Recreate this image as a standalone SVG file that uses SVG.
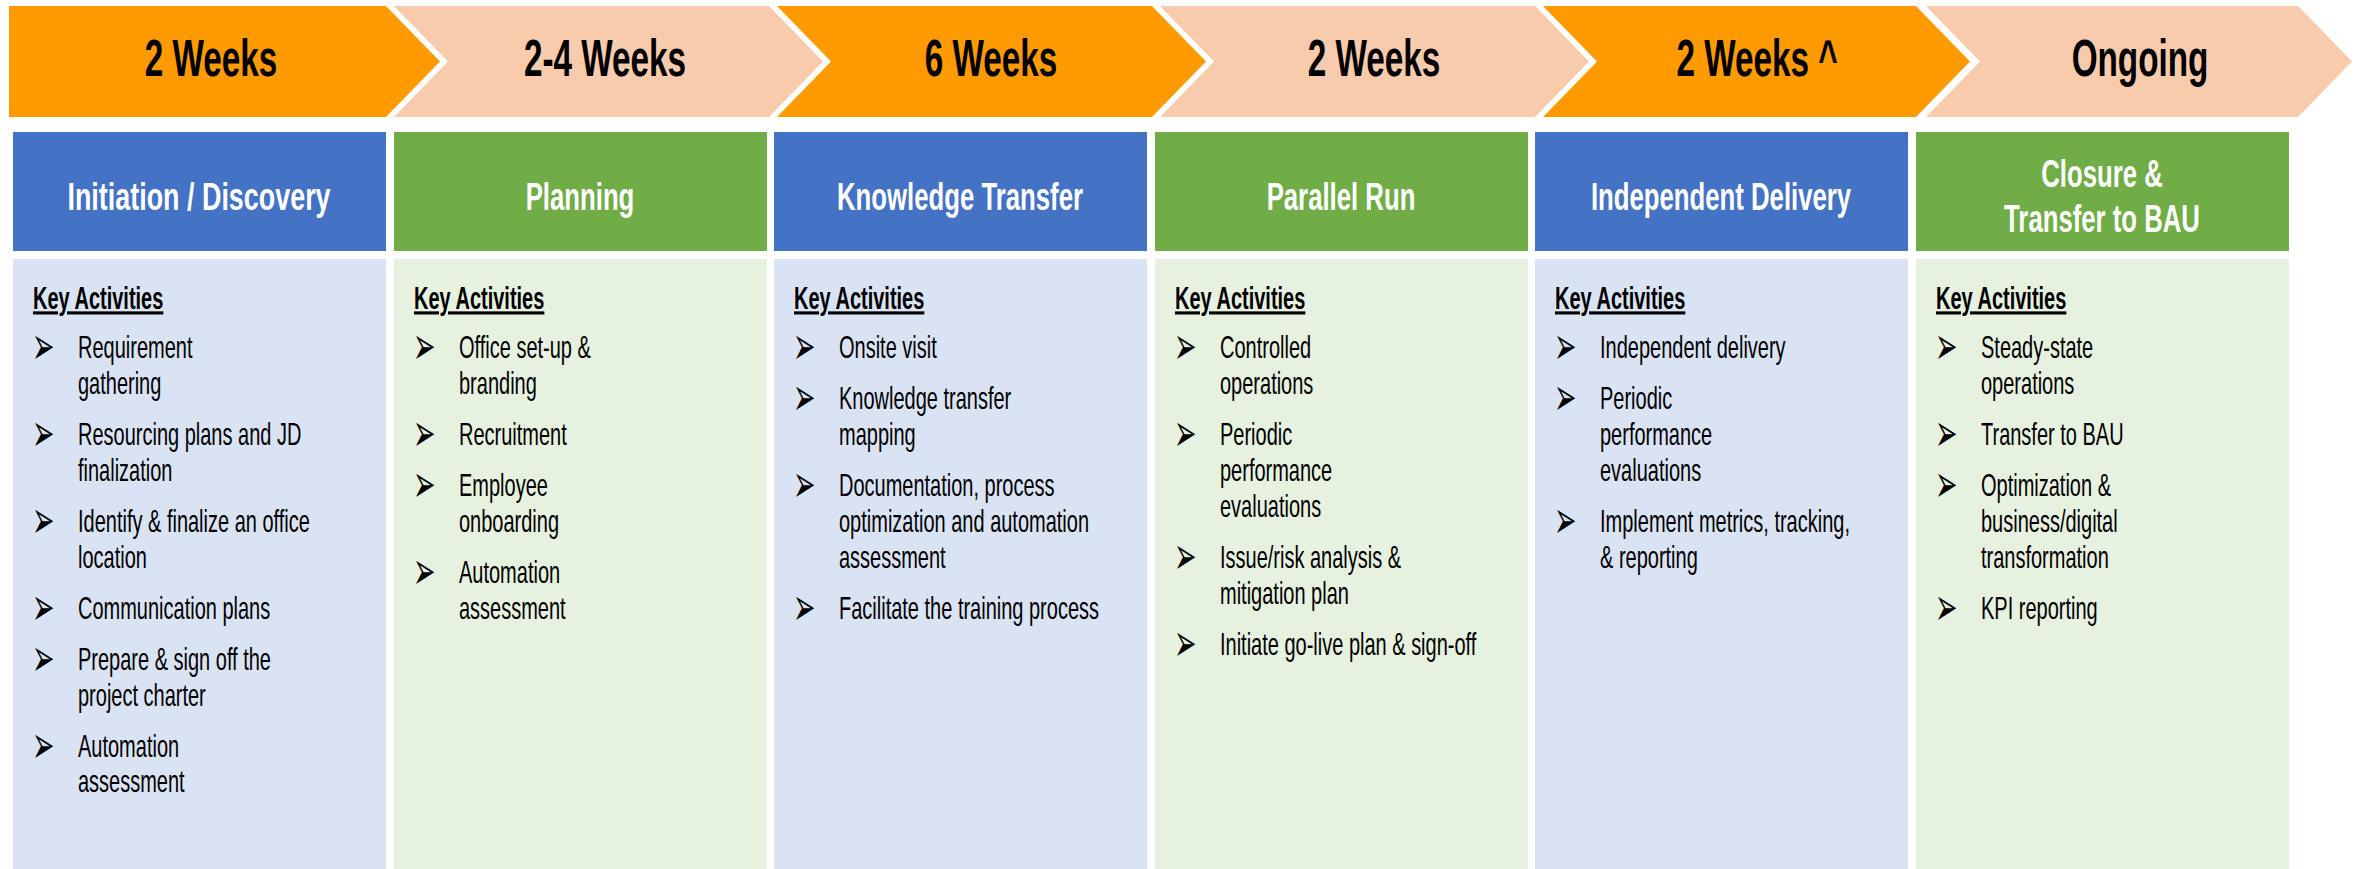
<svg xmlns="http://www.w3.org/2000/svg" width="2359" height="869" viewBox="0 0 2359 869">
<style>
.bg{fill:#ffffff}
.or{fill:#FF9A00}
.pe{fill:#F8CBAD}
.hb{fill:#4472C4}
.hg{fill:#70AD47}
.bb{fill:#DAE3F3}
.bgx{fill:#E6F1DF}
.ct{font-family:"Liberation Sans",Arial,sans-serif;font-weight:bold;font-size:52px;fill:#000;text-anchor:middle}
.ht{font-family:"Liberation Sans",Arial,sans-serif;font-weight:bold;font-size:39px;fill:#fff;text-anchor:middle}
.ka{font-family:"Liberation Sans",Arial,sans-serif;font-weight:bold;font-size:31px;fill:#000;text-decoration:underline}
.it{font-family:"Liberation Sans",Arial,sans-serif;font-size:31px;fill:#000}
.bu{font-family:"DejaVu Sans",sans-serif;font-size:40px;fill:#000}
</style>
<rect class="bg" x="0" y="0" width="2359" height="869"/>

<g id="timeline">
  <g id="chev1"><path class="or" d="M9,6 H386 L440,61.5 L386,117 H9 Z"/>
    <g transform="translate(211,0) scale(0.64,1)"><text class="ct" x="0" y="76">2 Weeks</text></g></g>
  <g id="chev2"><path class="pe" d="M394,6 H769 L823,61.5 L769,117 H394 L448,61.5 Z"/>
    <g transform="translate(605,0) scale(0.64,1)"><text class="ct" x="0" y="76">2-4 Weeks</text></g></g>
  <g id="chev3"><path class="or" d="M777,6 H1152 L1206,61.5 L1152,117 H777 L831,61.5 Z"/>
    <g transform="translate(991,0) scale(0.64,1)"><text class="ct" x="0" y="76">6 Weeks</text></g></g>
  <g id="chev4"><path class="pe" d="M1160,6 H1535 L1589,61.5 L1535,117 H1160 L1214,61.5 Z"/>
    <g transform="translate(1374,0) scale(0.64,1)"><text class="ct" x="0" y="76">2 Weeks</text></g></g>
  <g id="chev5"><path class="or" d="M1543,6 H1916 L1970,61.5 L1916,117 H1543 L1597,61.5 Z"/>
    <g transform="translate(1757,0) scale(0.64,1)"><text class="ct" x="0" y="76">2 Weeks ^</text></g></g>
  <g id="chev6"><path class="pe" d="M1926,6 H2298 L2352,61.5 L2298,117 H1926 L1980,61.5 Z"/>
    <g transform="translate(2140,0) scale(0.64,1)"><text class="ct" x="0" y="76">Ongoing</text></g></g>
</g>

<g id="connectors"></g>

<!-- Column 1 -->
<g id="phase1">
  <rect class="hb" x="13" y="132" width="373" height="119"/>
  <g transform="translate(199,0) scale(0.69,1)"><text class="ht" x="0" y="210">Initiation / Discovery</text></g>
  <rect class="bb" x="13" y="259" width="373" height="610"/>
  <text class="bu" transform="translate(32,363.5) scale(0.67,1.33)">➢</text>
  <text class="bu" transform="translate(32,450.5) scale(0.67,1.33)">➢</text>
  <text class="bu" transform="translate(32,537.5) scale(0.67,1.33)">➢</text>
  <text class="bu" transform="translate(32,624.5) scale(0.67,1.33)">➢</text>
  <text class="bu" transform="translate(32,675.5) scale(0.67,1.33)">➢</text>
  <text class="bu" transform="translate(32,762.5) scale(0.67,1.33)">➢</text>
  <g transform="translate(78,0) scale(0.645,1)">
    <text class="ka" x="-69.8" y="309">Key Activities</text>
    <text class="it" x="0" y="358">Requirement</text>
    <text class="it" x="0" y="394">gathering</text>
    <text class="it" x="0" y="445">Resourcing plans and JD</text>
    <text class="it" x="0" y="481">finalization</text>
    <text class="it" x="0" y="532">Identify &amp; finalize an office</text>
    <text class="it" x="0" y="568">location</text>
    <text class="it" x="0" y="619">Communication plans</text>
    <text class="it" x="0" y="670">Prepare &amp; sign off the</text>
    <text class="it" x="0" y="706">project charter</text>
    <text class="it" x="0" y="757">Automation</text>
    <text class="it" x="0" y="792">assessment</text>
  </g>
</g>

<!-- Column 2 -->
<g id="phase2">
  <rect class="hg" x="394" y="132" width="373" height="119"/>
  <g transform="translate(580,0) scale(0.66,1)"><text class="ht" x="0" y="210">Planning</text></g>
  <rect class="bgx" x="394" y="259" width="373" height="610"/>
  <text class="bu" transform="translate(413,363.5) scale(0.67,1.33)">➢</text>
  <text class="bu" transform="translate(413,450.5) scale(0.67,1.33)">➢</text>
  <text class="bu" transform="translate(413,501.5) scale(0.67,1.33)">➢</text>
  <text class="bu" transform="translate(413,588.5) scale(0.67,1.33)">➢</text>
  <g transform="translate(459,0) scale(0.645,1)">
    <text class="ka" x="-69.8" y="309">Key Activities</text>
    <text class="it" x="0" y="358">Office set-up &amp;</text>
    <text class="it" x="0" y="394">branding</text>
    <text class="it" x="0" y="445">Recruitment</text>
    <text class="it" x="0" y="496">Employee</text>
    <text class="it" x="0" y="532">onboarding</text>
    <text class="it" x="0" y="583">Automation</text>
    <text class="it" x="0" y="619">assessment</text>
  </g>
</g>

<!-- Column 3 -->
<g id="phase3">
  <rect class="hb" x="774" y="132" width="373" height="119"/>
  <g transform="translate(960,0) scale(0.66,1)"><text class="ht" x="0" y="210">Knowledge Transfer</text></g>
  <rect class="bb" x="774" y="259" width="373" height="610"/>
  <text class="bu" transform="translate(793,363.5) scale(0.67,1.33)">➢</text>
  <text class="bu" transform="translate(793,414.5) scale(0.67,1.33)">➢</text>
  <text class="bu" transform="translate(793,501.5) scale(0.67,1.33)">➢</text>
  <text class="bu" transform="translate(793,624.5) scale(0.67,1.33)">➢</text>
  <g transform="translate(839,0) scale(0.645,1)">
    <text class="ka" x="-69.8" y="309">Key Activities</text>
    <text class="it" x="0" y="358">Onsite visit</text>
    <text class="it" x="0" y="409">Knowledge transfer</text>
    <text class="it" x="0" y="445">mapping</text>
    <text class="it" x="0" y="496">Documentation, process</text>
    <text class="it" x="0" y="532">optimization and automation</text>
    <text class="it" x="0" y="568">assessment</text>
    <text class="it" x="0" y="619">Facilitate the training process</text>
  </g>
</g>

<!-- Column 4 -->
<g id="phase4">
  <rect class="hg" x="1155" y="132" width="373" height="119"/>
  <g transform="translate(1341,0) scale(0.66,1)"><text class="ht" x="0" y="210">Parallel Run</text></g>
  <rect class="bgx" x="1155" y="259" width="373" height="610"/>
  <text class="bu" transform="translate(1174,363.5) scale(0.67,1.33)">➢</text>
  <text class="bu" transform="translate(1174,450.5) scale(0.67,1.33)">➢</text>
  <text class="bu" transform="translate(1174,573.5) scale(0.67,1.33)">➢</text>
  <text class="bu" transform="translate(1174,660.5) scale(0.67,1.33)">➢</text>
  <g transform="translate(1220,0) scale(0.645,1)">
    <text class="ka" x="-69.8" y="309">Key Activities</text>
    <text class="it" x="0" y="358">Controlled</text>
    <text class="it" x="0" y="394">operations</text>
    <text class="it" x="0" y="445">Periodic</text>
    <text class="it" x="0" y="481">performance</text>
    <text class="it" x="0" y="517">evaluations</text>
    <text class="it" x="0" y="568">Issue/risk analysis &amp;</text>
    <text class="it" x="0" y="604">mitigation plan</text>
    <text class="it" x="0" y="655">Initiate go-live plan &amp; sign-off</text>
  </g>
</g>

<!-- Column 5 -->
<g id="phase5">
  <rect class="hb" x="1535" y="132" width="373" height="119"/>
  <g transform="translate(1721,0) scale(0.66,1)"><text class="ht" x="0" y="210">Independent Delivery</text></g>
  <rect class="bb" x="1535" y="259" width="373" height="610"/>
  <text class="bu" transform="translate(1554,363.5) scale(0.67,1.33)">➢</text>
  <text class="bu" transform="translate(1554,414.5) scale(0.67,1.33)">➢</text>
  <text class="bu" transform="translate(1554,537.5) scale(0.67,1.33)">➢</text>
  <g transform="translate(1600,0) scale(0.645,1)">
    <text class="ka" x="-69.8" y="309">Key Activities</text>
    <text class="it" x="0" y="358">Independent delivery</text>
    <text class="it" x="0" y="409">Periodic</text>
    <text class="it" x="0" y="445">performance</text>
    <text class="it" x="0" y="481">evaluations</text>
    <text class="it" x="0" y="532">Implement metrics, tracking,</text>
    <text class="it" x="0" y="568">&amp; reporting</text>
  </g>
</g>

<!-- Column 6 -->
<g id="phase6">
  <rect class="hg" x="1916" y="132" width="373" height="119"/>
  <g transform="translate(2102,0) scale(0.66,1)">
    <text class="ht" x="0" y="187">Closure &amp;</text>
    <text class="ht" x="0" y="232">Transfer to BAU</text>
  </g>
  <rect class="bgx" x="1916" y="259" width="373" height="610"/>
  <text class="bu" transform="translate(1935,363.5) scale(0.67,1.33)">➢</text>
  <text class="bu" transform="translate(1935,450.5) scale(0.67,1.33)">➢</text>
  <text class="bu" transform="translate(1935,501.5) scale(0.67,1.33)">➢</text>
  <text class="bu" transform="translate(1935,624.5) scale(0.67,1.33)">➢</text>
  <g transform="translate(1981,0) scale(0.645,1)">
    <text class="ka" x="-69.8" y="309">Key Activities</text>
    <text class="it" x="0" y="358">Steady-state</text>
    <text class="it" x="0" y="394">operations</text>
    <text class="it" x="0" y="445">Transfer to BAU</text>
    <text class="it" x="0" y="496">Optimization &amp;</text>
    <text class="it" x="0" y="532">business/digital</text>
    <text class="it" x="0" y="568">transformation</text>
    <text class="it" x="0" y="619">KPI reporting</text>
  </g>
</g>
</svg>
